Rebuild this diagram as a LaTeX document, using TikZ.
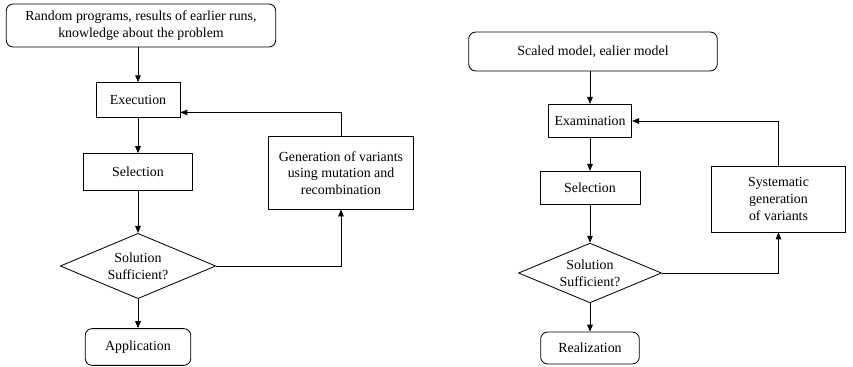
\documentclass[tikz,border=0pt]{standalone}
\usepackage{fontspec}
\setmainfont{Liberation Serif}
\usetikzlibrary{arrows.meta,shapes.geometric,calc}

\begin{document}
\begin{tikzpicture}[x=0.72pt,y=-0.72pt,font=\normalsize,
  proc/.style={draw,rectangle,align=center,inner sep=2pt,line width=0.6pt},
  term/.style={draw,rectangle,rounded corners=5pt,align=center,inner sep=2pt,line width=0.6pt},
  cond/.style={draw,diamond,aspect=2.4,align=center,inner sep=0pt,line width=0.6pt},
  arr/.style={-{Triangle[length=5pt,width=4pt]},line width=0.6pt}]
\useasboundingbox (0,0) rectangle (853,367);
% left: evolutionary loop
\node[term,minimum width=194pt,minimum height=31pt](srcA) at(141,25.5){Random programs, results of earlier runs,\\knowledge about the problem};
\node[proc,minimum width=60.5pt,minimum height=25pt](exec) at(138,100){Execution};
\node[proc,minimum width=78pt,minimum height=26.5pt](selA) at(138,172){Selection};
\node[cond,minimum width=112pt,minimum height=47pt](decA) at(138,266){Solution\\Sufficient?};
\node[term,minimum width=76pt,minimum height=26.5pt](app) at(138,347){Application};
\node[proc,minimum width=104pt,minimum height=52pt](gen) at(341,173){Generation of variants\\using mutation and\\recombination};
\draw[arr](exec |- srcA.south)--(exec);
\draw[arr](exec)--(selA);
\draw[arr](selA)--(decA);
\draw[arr](decA)--(app);
\draw[arr](decA.east)-|(gen.south);
\draw[arr](gen.north)|-($(exec.east)!0.7!(exec.south east)$);
% right: classical loop
\node[term,minimum width=179pt,minimum height=28pt](srcB) at(593,51.5){Scaled model, ealier model};
\node[proc,minimum width=60pt,minimum height=24pt](exam) at(590,121){Examination};
\node[proc,minimum width=72pt,minimum height=24pt](selB) at(590,188){Selection};
\node[cond,minimum width=103pt,minimum height=43pt](decB) at(590,273){Solution\\Sufficient?};
\node[term,minimum width=71pt,minimum height=23pt](real) at(590,348){Realization};
\node[proc,minimum width=96pt,minimum height=47.5pt](sys) at(778.5,199){Systematic\\generation\\of variants};
\draw[arr](exam |- srcB.south)--(exam);
\draw[arr](exam)--(selB);
\draw[arr](selB)--(decB);
\draw[arr](decB)--(real);
\draw[arr](decB.east)-|(sys.south);
\draw[arr](sys.north)|-(exam.east);
\end{tikzpicture}
\end{document}
